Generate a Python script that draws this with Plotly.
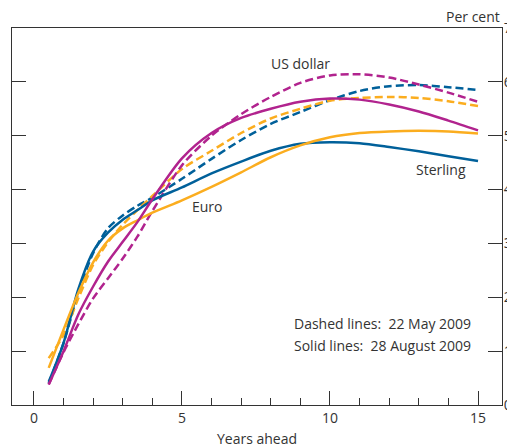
import plotly.graph_objects as go

years = [0.5, 1, 1.5, 2, 2.5, 3, 3.5, 4, 5, 6, 7, 8, 9, 10, 11, 12, 13, 14, 15]

sterling_aug = [0.43, 1.15, 2.15, 2.85, 3.2, 3.44, 3.62, 3.8, 4.04, 4.3, 4.52, 4.72, 4.85, 4.88, 4.86, 4.79, 4.71, 4.62, 4.53]
sterling_may = [0.40, 1.15, 2.08, 2.82, 3.28, 3.52, 3.7, 3.85, 4.2, 4.57, 4.92, 5.22, 5.44, 5.66, 5.83, 5.92, 5.94, 5.9, 5.85]
euro_aug = [0.69, 1.4, 2.08, 2.65, 3.05, 3.28, 3.43, 3.57, 3.8, 4.05, 4.32, 4.6, 4.82, 4.97, 5.05, 5.08, 5.09, 5.08, 5.04]
euro_may = [0.87, 1.3, 1.98, 2.6, 3.02, 3.35, 3.62, 3.88, 4.38, 4.72, 5.05, 5.32, 5.5, 5.65, 5.7, 5.72, 5.7, 5.64, 5.55]
usd_aug = [0.38, 1.0, 1.68, 2.2, 2.66, 3.03, 3.4, 3.82, 4.58, 5.05, 5.33, 5.5, 5.63, 5.69, 5.67, 5.58, 5.45, 5.28, 5.1]
usd_may = [0.38, 0.98, 1.5, 1.98, 2.35, 2.72, 3.13, 3.6, 4.45, 5.0, 5.4, 5.72, 5.98, 6.12, 6.14, 6.08, 5.95, 5.8, 5.63]

x_ticks = [0, 5, 10, 15]
y_ticks = [0, 1, 2, 3, 4, 5, 6, 7]

BLUE = "#00609a"
ORANGE = "#fbad1f"
MAGENTA = "#b1238e"
TEXT = "#333333"
FONT = "Open Sans"
FS = 14

fig = go.Figure()

series = [
    (sterling_may, BLUE, "8px,4px"),
    (euro_may, ORANGE, "8px,4px"),
    (usd_may, MAGENTA, "8px,4px"),
    (sterling_aug, BLUE, "solid"),
    (euro_aug, ORANGE, "solid"),
    (usd_aug, MAGENTA, "solid"),
]
for vals, col, dash in series:
    fig.add_trace(go.Scatter(
        x=years, y=vals, mode="lines",
        line=dict(color=col, width=2.5, dash=dash, shape="spline", smoothing=0.8),
        showlegend=False, hoverinfo="skip",
    ))

fig.update_layout(
    width=515, height=448,
    margin=dict(l=4, r=21, t=20, b=51, autoexpand=False),
    paper_bgcolor="white", plot_bgcolor="white",
    font=dict(family=FONT, size=FS, color=TEXT),
    xaxis=dict(
        range=[-0.74, 15.81], tickvals=x_ticks, ticktext=[str(v) for v in x_ticks],
        ticks="inside", ticklen=14, tickwidth=1, tickcolor="#333",
        minor=dict(dtick=1, tick0=0, ticks="inside", ticklen=7, tickwidth=1, tickcolor="#333", showgrid=False),
        showline=True, linecolor="#333", linewidth=1, mirror=True,
        showgrid=False, zeroline=False, automargin=False,
        title=dict(text="Years ahead", standoff=8, font=dict(size=FS, color=TEXT)),
    ),
    yaxis=dict(
        range=[0, 7], tickvals=y_ticks, side="right",
        ticks="inside", ticklen=14, tickwidth=1, tickcolor="#333",
        showline=True, linecolor="#333", linewidth=1, mirror="allticks",
        showgrid=False, zeroline=False, automargin=False,
        ticklabelstandoff=-2,
    ),
)

fig.add_annotation(xref="paper", yref="paper", x=1, y=1, xanchor="right", yanchor="bottom",
                   yshift=0, text="Per cent", showarrow=False)
fig.add_annotation(x=9.02, y=6.35, text="US dollar", showarrow=False)
fig.add_annotation(x=5.85, y=3.69, text="Euro", showarrow=False)
fig.add_annotation(x=13.75, y=4.38, text="Sterling", showarrow=False)
fig.add_annotation(x=8.72, y=1.52, xanchor="left", text="Dashed lines:  22 May 2009", showarrow=False)
fig.add_annotation(x=8.72, y=1.10, xanchor="left", text="Solid lines:  28 August 2009", showarrow=False)

fig.write_html("out.html")
